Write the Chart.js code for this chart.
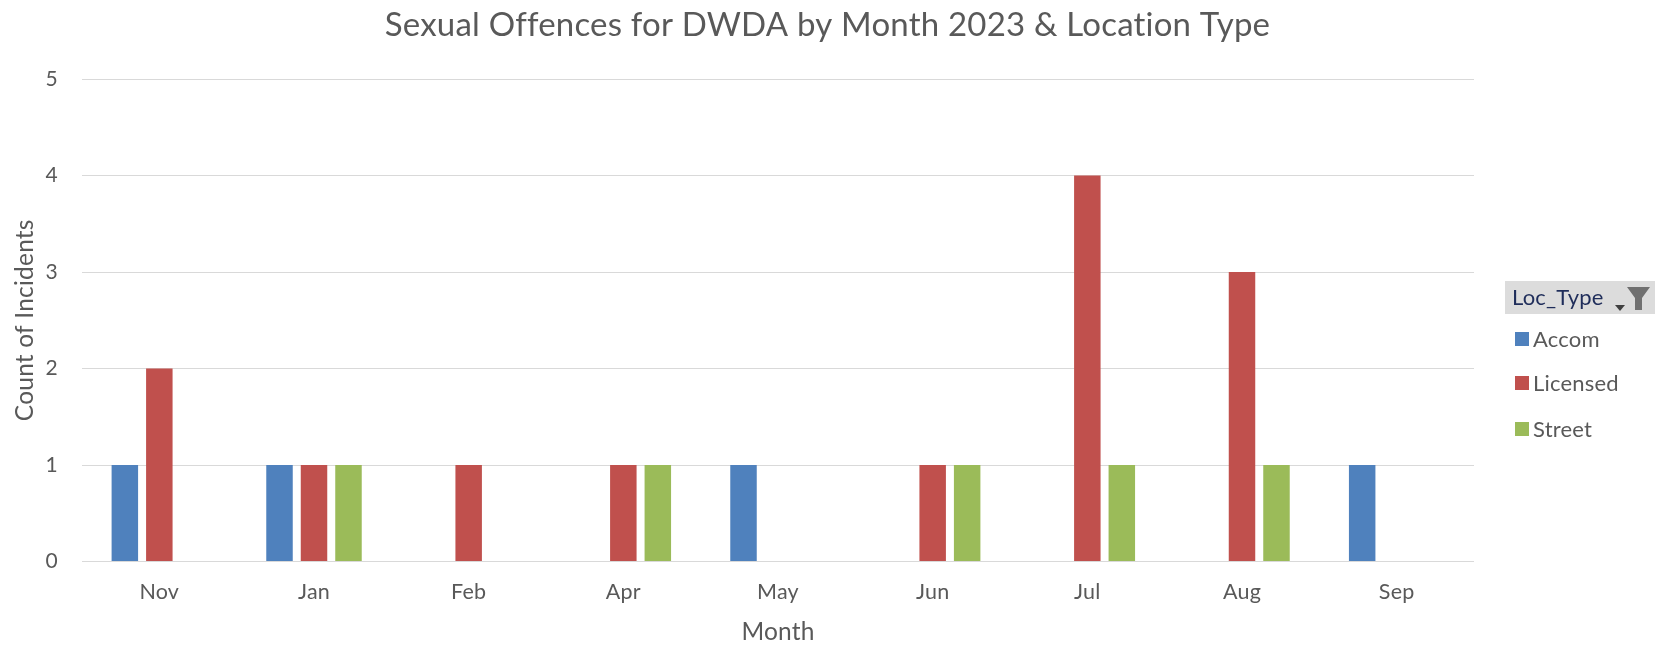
<!DOCTYPE html>
<html>
<head>
<meta charset="utf-8">
<script src="https://cdn.jsdelivr.net/npm/chart.js@4"></script>
<style>
  html, body { margin: 0; padding: 0; background: #fff; }
  #wrap { width: 1655px; height: 647px; position: relative; }
</style>
</head>
<body>
<div id="wrap"><canvas id="c" width="1655" height="647"></canvas></div>
<script>
const months = ["Nov", "Jan", "Feb", "Apr", "May", "Jun", "Jul", "Aug", "Sep"];
const accom    = [1, 1, null, null, 1, null, null, null, 1];
const licensed = [2, 1, 1, 1, null, 1, 4, 3, null];
const street   = [null, 1, null, 1, null, 1, 1, 1, null];
const seriesNames = ["Accom", "Licensed", "Street"];
const seriesColors = ["#4f81bd", "#c0504d", "#9bbb59"];
const yTicks = [0, 1, 2, 3, 4, 5];
const chartTitle = "Sexual Offences for DWDA by Month 2023 & Location Type";
const xTitle = "Month";
const yTitle = "Count of Incidents";
const legendTitle = "Loc_Type";

const FONT = "Lato, 'Open Sans', sans-serif";
const GREY = "#595959";

// tiny letter spacing keeps Lato from forming ligatures (e.g. "ti")
const noLigaPlugin = {
  id: 'noLiga',
  beforeLayout(chart) { if ('letterSpacing' in chart.ctx) chart.ctx.letterSpacing = '0.2px'; },
  beforeDraw(chart) { if ('letterSpacing' in chart.ctx) chart.ctx.letterSpacing = '0.2px'; }
};

const legendPlugin = {
  id: 'excelLegend',
  afterDraw(chart) {
    const ctx = chart.ctx;
    ctx.save();
    const hx = 1505, hy = 281, hw = 150, hh = 33;
    ctx.fillStyle = '#dcdcdc';
    ctx.fillRect(hx, hy, hw, hh);
    ctx.font = "22px " + FONT;
    ctx.fillStyle = '#1f2d5a';
    ctx.textBaseline = 'middle';
    ctx.textAlign = 'left';
    ctx.fillText(legendTitle, hx + 7, hy + hh / 2);
    ctx.fillStyle = '#404040';
    ctx.beginPath();
    ctx.moveTo(1615, 305); ctx.lineTo(1625, 305); ctx.lineTo(1620, 311); ctx.closePath(); ctx.fill();
    ctx.fillStyle = '#707070';
    ctx.beginPath();
    ctx.moveTo(1627, 287); ctx.lineTo(1650, 287); ctx.lineTo(1642, 298);
    ctx.lineTo(1642, 310); ctx.lineTo(1635, 310); ctx.lineTo(1635, 298); ctx.closePath(); ctx.fill();
    const ys = [339, 383, 429];
    chart.data.datasets.forEach((ds, i) => {
      ctx.fillStyle = ds.backgroundColor;
      ctx.fillRect(1515, ys[i] - 7, 14, 14);
      ctx.fillStyle = GREY;
      ctx.font = "22px " + FONT;
      ctx.fillText(ds.label, 1533, ys[i] + 1);
    });
    ctx.restore();
  }
};

new Chart(document.getElementById('c'), {
  type: 'bar',
  data: {
    labels: months,
    datasets: [
      { label: seriesNames[0], data: accom, backgroundColor: seriesColors[0] },
      { label: seriesNames[1], data: licensed, backgroundColor: seriesColors[1] },
      { label: seriesNames[2], data: street, backgroundColor: seriesColors[2] }
    ]
  },
  options: {
    responsive: false,
    animation: false,
    layout: { padding: 0 },
    datasets: { bar: { categoryPercentage: 0.669, barPercentage: 0.768 } },
    plugins: {
      legend: { display: false },
      tooltip: { enabled: false },
      title: {
        display: true,
        text: chartTitle,
        color: GREY,
        font: { family: FONT, size: 33, weight: 'normal' },
        padding: { top: 6, bottom: 33.4 }
      }
    },
    scales: {
      x: {
        grid: { display: false },
        border: { display: false },
        ticks: { color: GREY, font: { family: FONT, size: 21.5 }, padding: 10 },
        title: { display: true, text: xTitle, color: GREY, font: { family: FONT, size: 24.5 }, padding: { top: 0, bottom: 0 } },
        afterFit(s) { s.height = 647 - 561.5; }
      },
      y: {
        min: 0, max: 5,
        afterBuildTicks(s) { s.ticks = yTicks.map(v => ({ value: v })); },
        grid: { color: '#d9d9d9', lineWidth: 1, drawTicks: false },
        border: { display: false },
        ticks: { color: GREY, font: { family: FONT, size: 21 }, padding: 24 },
        title: { display: true, text: yTitle, color: GREY, font: { family: FONT, size: 24.5 }, padding: { top: 10, bottom: 0 } },
        afterFit(s) { s.width = 82; }
      },
      yRight: {
        position: 'right',
        display: true,
        grid: { display: false },
        border: { display: false },
        ticks: { display: false },
        afterFit(s) { s.width = 181; }
      }
    }
  },
  plugins: [noLigaPlugin, legendPlugin]
});
</script>
</body>
</html>
